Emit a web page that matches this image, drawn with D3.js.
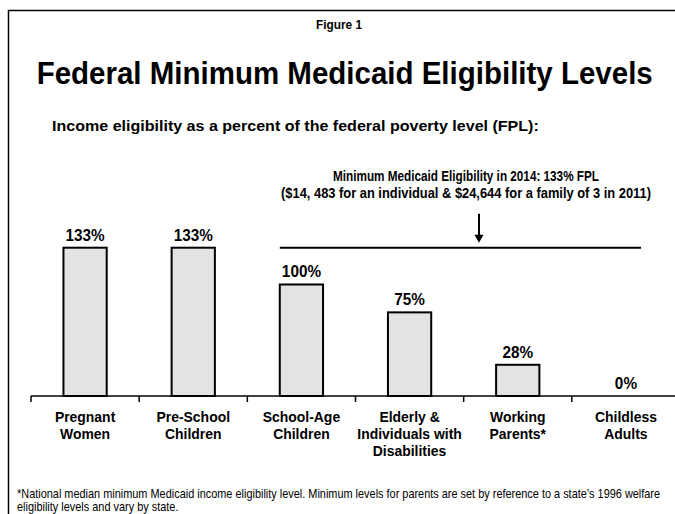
<!DOCTYPE html>
<html><head><meta charset="utf-8">
<script src="https://cdn.jsdelivr.net/npm/d3@7"></script>
<style>
html,body{margin:0;padding:0;background:#fff;}
svg{display:block;font-family:"Liberation Sans",Arial,Helvetica,sans-serif;}
</style></head>
<body>
<svg id="chart" width="675" height="514"></svg>
<script>
const categories = [
  ["Pregnant","Women"],
  ["Pre-School","Children"],
  ["School-Age","Children"],
  ["Elderly &","Individuals with","Disabilities"],
  ["Working","Parents*"],
  ["Childless","Adults"]
];
const values = [133, 133, 100, 75, 28, 0];
const valueLabels = ["133%","133%","100%","75%","28%","0%"];
const referenceValue = 133;
const annotationLines = [
  "Minimum Medicaid Eligibility in 2014: 133% FPL",
  "($14, 483 for an individual & $24,644 for a family of 3 in 2011)"
];
const footnoteLines = [
  "*National median minimum Medicaid income eligibility level. Minimum levels for parents are set by reference to a state\u2019s 1996 welfare",
  "eligibility levels and vary by state."
];

const svg = d3.select("#chart");

// draw text with condensed look: rendered smaller then scaled (sx from target width or factor, sy to reach size)
function label(parent, txt, x, y, opts) {
  const size = opts.size, base = size * 0.8;
  const g = parent.append("g");
  const t = g.append("text").attr("x",0).attr("y",0)
    .attr("font-size", base).attr("font-weight", opts.bold ? "bold" : "normal")
    .attr("text-anchor", opts.anchor || "start").text(txt);
  const w = t.node().getComputedTextLength();
  const sx = opts.width ? opts.width / w : (opts.factor || 1) / 0.8;
  g.attr("transform", `translate(${x},${y}) scale(${sx},${1/0.8})`);
  return sx;
}

// frame
svg.append("rect").attr("x",8.5).attr("y",10.5).attr("width",720).attr("height",560)
  .attr("fill","none").attr("stroke","#000").attr("stroke-width",1.5);

label(svg, "Figure 1", 339, 29, {size:12, bold:true, anchor:"middle", width:46});
label(svg, "Federal Minimum Medicaid Eligibility Levels", 344.7, 84, {size:32, bold:true, anchor:"middle", width:616});
label(svg, "Income eligibility as a percent of the federal poverty level (FPL):", 52, 131, {size:15.5, bold:true, width:487});

const idx = categories.map((d,i)=>i);
const x = d3.scaleBand().domain(idx).range([31, 680]).paddingInner(0.6).paddingOuter(0.3);
const step = x.step();
const y = d3.scaleLinear().domain([0, 133]).range([396, 247.7]);

// axis
const g = svg.append("g");
g.append("line").attr("x1",31).attr("x2",680).attr("y1",y(0)).attr("y2",y(0))
  .attr("stroke","#000").attr("stroke-width",1.5);
g.selectAll("line.tick").data(idx).join("line").attr("class","tick")
  .attr("x1",d=>x(d)-step*0.3).attr("x2",d=>x(d)-step*0.3)
  .attr("y1",y(0)).attr("y2",y(0)+6).attr("stroke","#000").attr("stroke-width",1.5);

// bars
g.selectAll("rect.bar").data(idx.filter(i=>values[i]>0)).join("rect").attr("class","bar")
  .attr("x",d=>x(d)).attr("width",x.bandwidth())
  .attr("y",d=>y(values[d])).attr("height",d=>y(0)-y(values[d]))
  .attr("fill","#e3e3e3").attr("stroke","#000").attr("stroke-width",2);

// value labels
idx.forEach(d=>{
  label(g, valueLabels[d], x(d)+x.bandwidth()/2, y(values[d])-7, {size:17, bold:true, anchor:"middle", factor:0.9});
});

// category labels
idx.forEach(d=>{
  const c = x(d)+x.bandwidth()/2;
  categories[d].forEach((t,i)=>{
    label(g, t, c, 422+i*17, {size:15, bold:true, anchor:"middle", factor:0.93});
  });
});

// reference line
const refY = y(referenceValue);
g.append("line").attr("x1",x(2)).attr("x2",641).attr("y1",refY).attr("y2",refY)
  .attr("stroke","#000").attr("stroke-width",2);

// arrow
const ax = 479;
g.append("line").attr("x1",ax).attr("x2",ax).attr("y1",refY-34).attr("y2",refY-10)
  .attr("stroke","#000").attr("stroke-width",2);
g.append("path").attr("d",`M${ax-4.5},${refY-13} L${ax+4.5},${refY-13} L${ax},${refY-5} Z`).attr("fill","#000");

// annotation
const annW = [266, 370];
annotationLines.forEach((t,i)=>{
  label(svg, t, 466, 181+i*17, {size:14, bold:true, anchor:"middle", width:annW[i]});
});

// footnote
const sx = label(svg, footnoteLines[0], 17, 498, {size:12, width:643});
label(svg, footnoteLines[1], 17, 511, {size:12, factor:sx*0.8});
</script>
</body></html>
